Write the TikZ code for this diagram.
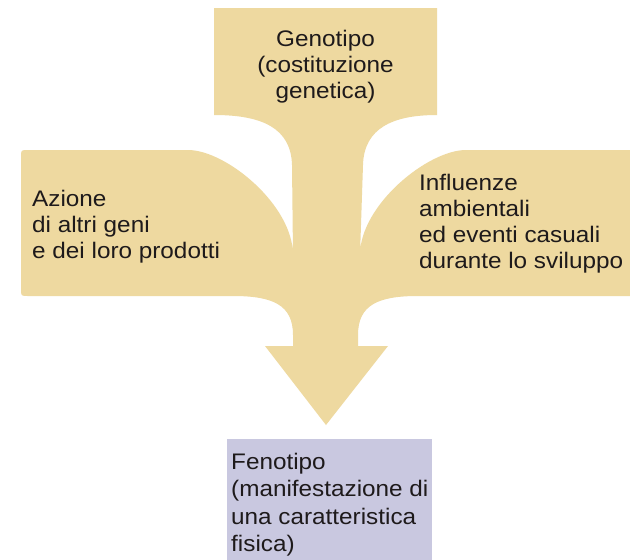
\documentclass[tikz,border=0pt]{standalone}
\usepackage{fontspec}
\newfontfamily\labfont[FakeStretch=1.08]{Liberation Sans}
\definecolor{beige}{RGB}{238,217,160}
\definecolor{lavender}{RGB}{201,200,224}
\definecolor{ink}{RGB}{30,26,27}
\newcommand\linesL[2][26pt]{\vtop{\baselineskip=#1\halign{##\hfil\cr#2\crcr}}}
\newcommand\linesC[2][26pt]{\vtop{\baselineskip=#1\halign{\hfil##\hfil\cr#2\crcr}}}
\tikzset{
  lab/.style={inner sep=0pt, text=ink, font=\labfont\fontsize{22.5}{26}\selectfont},
}
\begin{document}
\begin{tikzpicture}[x=1pt,y=-1pt]
\useasboundingbox (0,0) rectangle (630,560);
\fill[white] (0,0) rectangle (630,560);
% beige tree-shaped arrow
\fill[beige]
 (214,8) -- (437,8) -- (437,115)
 .. controls (393,115) and (364,128) .. (363,165)
 -- (360,255)
 .. controls (360,205) and (428,150) .. (466,150)
 -- (630,150) -- (630,296) -- (418,296)
 .. controls (378,296) and (358,305) .. (358,335)
 -- (358,346) -- (388,346) -- (326,425) -- (265,346) -- (293,346) -- (293,335)
 .. controls (293,305) and (273,296) .. (233,296)
 -- (28,296) .. controls (21,296) .. (21,289)
 -- (21,157) .. controls (21,150) .. (28,150)
 -- (188,150)
 .. controls (226,150) and (293,205) .. (293,255)
 -- (292,165)
 .. controls (291,128) and (262,115) .. (214,115) -- cycle;
% phenotype box
\fill[lavender] (227,439) rectangle (432,560);
\node[lab, anchor=base] (geno) at (325.5,46)
  {\linesC{Genotipo\cr (costituzione\cr genetica)}};
\node[lab, anchor=base west] (azione) at (32,206)
  {\linesL{Azione\cr di altri geni\cr e dei loro prodotti}};
\node[lab, anchor=base west] (influ) at (419,190)
  {\linesL{Influenze\cr ambientali\cr ed eventi casuali\cr durante lo sviluppo}};
\node[lab, anchor=base west] (feno) at (231,469)
  {\linesL[27.5pt]{Fenotipo\cr (manifestazione di\cr una caratteristica\cr fisica)}};
\end{tikzpicture}
\end{document}
